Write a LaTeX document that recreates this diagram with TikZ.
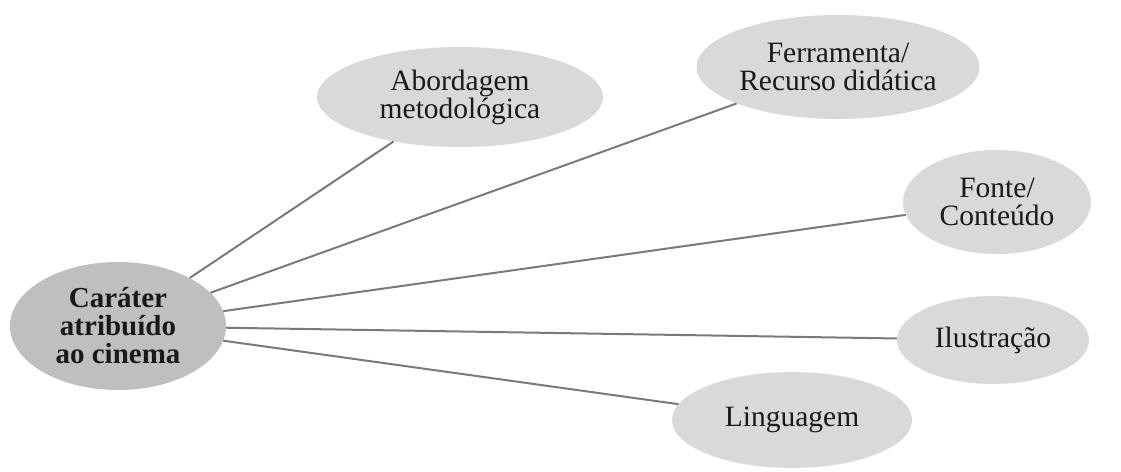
\documentclass[tikz,border=0pt]{standalone}
\usepackage{fontspec}
\setmainfont{Liberation Serif}
\usetikzlibrary{shapes.geometric}
\definecolor{hubfill}{HTML}{BFBFBF}
\definecolor{leaffill}{HTML}{D9D9D9}
\definecolor{linkcol}{HTML}{7A7A7A}
\begin{document}
\begin{tikzpicture}[x=1pt,y=-1pt,
  blob/.style={ellipse,inner sep=0pt,align=center,text=black!90,
    font=\fontsize{29.5}{28}\selectfont},
  hub/.style={blob,fill=hubfill,font=\fontsize{29}{28}\selectfont\bfseries},
  leaf/.style={blob,fill=leaffill},
  link/.style={draw=linkcol,line width=2pt}]
\useasboundingbox (0,0) rectangle (1121,471);
\node[hub,minimum width=216pt,minimum height=128pt] (c) at (118,326) {Caráter\\atribuído\\ao cinema};
\node[leaf,minimum width=286pt,minimum height=100pt] (a) at (460,97) {Abordagem\\metodológica};
\node[leaf,minimum width=283pt,minimum height=104pt] (f) at (838,67) {Ferramenta/\\Recurso didática};
\node[leaf,minimum width=188pt,minimum height=104pt] (o) at (997,202) {Fonte/\\Conteúdo};
\node[leaf,minimum width=192pt,minimum height=88pt] (i) at (993,340) {Ilustração};
\node[leaf,minimum width=240pt,minimum height=96pt] (l) at (792,420) {Linguagem};
\draw[link] (c) -- (a);
\draw[link] (c) -- (f);
\draw[link] (c) -- (o);
\draw[link] (c) -- (i);
\draw[link] (c) -- (l);
\end{tikzpicture}
\end{document}
